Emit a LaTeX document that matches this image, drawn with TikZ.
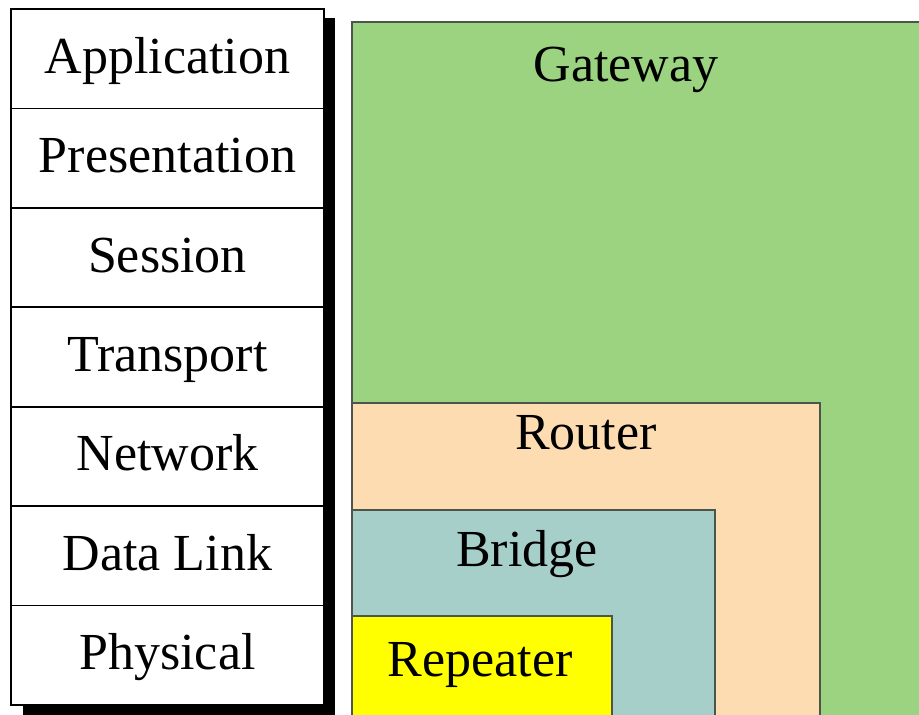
\documentclass[tikz,border=0pt]{standalone}
\usepackage{fontspec}
\setmainfont{Liberation Serif}
\usetikzlibrary{positioning}
\tikzstyle{diagram} = [x = 1pt, y = -1pt]
\definecolor{gatewayColor}{RGB}{155,211,128}
\definecolor{routerColor}{RGB}{253,220,178}
\definecolor{bridgeColor}{RGB}{166,207,201}
\definecolor{repeaterColor}{RGB}{255,255,0}
\definecolor{edgeColor}{RGB}{75,85,75}
\newcommand{\labelFont}{\fontsize{52}{60}\selectfont}
\tikzstyle{layerStyle} = [draw=black, fill=white, line width=1.8pt, minimum width=313pt, minimum height=99.4pt, inner sep=0pt, outer sep=0pt, text height=36pt, text depth=7pt, font=\labelFont]
\tikzstyle{shadowStyle} = [fill=black]
\tikzstyle{deviceStyle} = [draw=edgeColor, line width=1.3pt]
\tikzstyle{deviceText} = [font=\labelFont, anchor=base]
\newcommand{\device}[6]{\filldraw [deviceStyle, fill=#5] (352, #1) rectangle (#2, 740);
  \node [deviceText] (#3) at (#4) {#6};}
\newcommand{\layer}[3]{\node [layerStyle, below = 0pt of #1] (#2) {#3};}

\begin{document}
\begin{tikzpicture}[diagram]
        \clip (0, 0) rectangle (919, 715);
        \fill [white] (0, 0) rectangle (919, 715);

        % shadow behind the stack
        \fill [shadowStyle] (23, 18) rectangle (335, 740);

        \node [layerStyle, anchor = north west] (application) at (11, 9) {Application};
        \layer{application}{presentation}{Presentation}
        \layer{presentation}{session}{Session}
        \layer{session}{transport}{Transport}
        \layer{transport}{network}{Network}
        \layer{network}{datalink}{Data Link}
        \layer{datalink}{physical}{Physical}

        \device{22}{940}{gateway}{626, 81}{gatewayColor}{Gateway}
        \device{403}{820}{router}{586, 449}{routerColor}{Router}
        \device{510}{715}{bridge}{527, 566}{bridgeColor}{Bridge}
        \device{616}{612}{repeater}{480, 676}{repeaterColor}{Repeater}
      \end{tikzpicture}
\end{document}
